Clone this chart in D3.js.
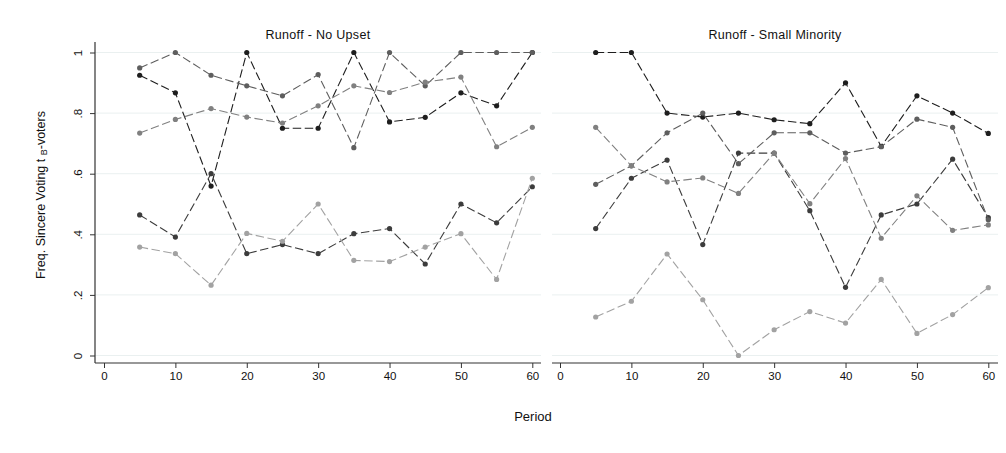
<!DOCTYPE html>
<html>
<head>
<meta charset="utf-8">
<script src="https://cdn.jsdelivr.net/npm/d3@7"></script>
<style>
  html, body { margin: 0; padding: 0; background: #fff; }
  svg { display: block; font-family: "Liberation Sans", Arial, sans-serif; }
</style>
</head>
<body>
<svg id="chart" width="1006" height="453"></svg>
<script>
// Periods at which sincere-voting frequency was measured
const periods = [5, 10, 15, 20, 25, 30, 35, 40, 45, 50, 55, 60];

// Panel titles
const panelTitles = ["Runoff - No Upset", "Runoff - Small Minority"];

// Axis ticks
const xTicks = [0, 10, 20, 30, 40, 50, 60];
const yTicks = [0, 0.2, 0.4, 0.6, 0.8, 1];
const yTickLabels = ["0", ".2", ".4", ".6", ".8", "1"];

// Series colours (one grey shade per session)
const seriesColors = ["#1e1e1e", "#3c3c3c", "#5e5e5e", "#808080", "#a2a2a2"];

// Runoff - No Upset: one array per session
const noUpset1 = [0.925, 0.867, 0.559, 1.0, 0.75, 0.75, 1.0, 0.771, 0.786, 0.867, 0.824, 1.0];
const noUpset2 = [0.464, 0.391, 0.6, 0.336, 0.366, 0.336, 0.402, 0.419, 0.302, 0.5, 0.438, 0.557];
const noUpset3 = [0.949, 1.0, 0.925, 0.89, 0.857, 0.927, 0.686, 1.0, 0.89, 1.0, 1.0, 1.0];
const noUpset4 = [0.734, 0.779, 0.815, 0.787, 0.767, 0.824, 0.89, 0.868, 0.902, 0.919, 0.689, 0.753];
const noUpset5 = [0.358, 0.336, 0.232, 0.403, 0.377, 0.5, 0.314, 0.31, 0.358, 0.402, 0.251, 0.585];

// Runoff - Small Minority: one array per session
const minority1 = [1.0, 1.0, 0.8, 0.787, 0.8, 0.778, 0.765, 0.9, 0.69, 0.857, 0.8, 0.733];
const minority2 = [0.419, 0.585, 0.645, 0.366, 0.668, 0.668, 0.478, 0.225, 0.464, 0.5, 0.648, 0.455];
const minority3 = [0.565, 0.626, 0.735, 0.8, 0.633, 0.735, 0.735, 0.668, 0.689, 0.78, 0.753, 0.448];
const minority4 = [0.753, 0.626, 0.573, 0.586, 0.535, 0.668, 0.501, 0.65, 0.387, 0.527, 0.413, 0.431];
const minority5 = [0.127, 0.179, 0.335, 0.184, 0.0, 0.085, 0.145, 0.107, 0.251, 0.073, 0.135, 0.224];

const panels = [
  { title: panelTitles[0], series: [noUpset1, noUpset2, noUpset3, noUpset4, noUpset5], left: 95, x0: 104, yAxis: true },
  { title: panelTitles[1], series: [minority1, minority2, minority3, minority4, minority5], left: 552, x0: 560, yAxis: false }
];

const svg = d3.select("#chart");

const plotTop = 42, plotBottom = 363, plotWidth = 446;
const y = d3.scaleLinear().domain([0, 1]).range([355.5, 52.5]);

panels.forEach(p => {
  const x = d3.scaleLinear().domain([0, 60]).range([p.x0, p.x0 + 428.3]);
  const g = svg.append("g");

  // Horizontal gridlines
  g.selectAll("line.grid").data(yTicks).join("line")
    .attr("class", "grid")
    .attr("x1", p.left).attr("x2", p.left + plotWidth)
    .attr("y1", d => y(d)).attr("y2", d => y(d))
    .attr("stroke", "#eaf0f0").attr("stroke-width", 1);

  // Title
  g.append("text")
    .attr("x", p.left + plotWidth / 2).attr("y", 39)
    .attr("text-anchor", "middle")
    .attr("font-size", 12.5).attr("letter-spacing", 0.3).attr("fill", "#111")
    .text(p.title);

  // X axis
  const xAxis = d3.axisBottom(x).tickValues(xTicks).tickSize(5).tickPadding(4).tickSizeOuter(0);
  const xa = g.append("g").attr("transform", `translate(0,${plotBottom})`).call(xAxis);
  xa.select(".domain").remove();
  xa.append("line").attr("x1", p.left).attr("x2", p.left + plotWidth)
    .attr("stroke", "#333").attr("stroke-width", 1.2);
  xa.selectAll(".tick line").attr("stroke", "#333");
  xa.selectAll(".tick text").attr("font-size", 11.5).attr("fill", "#111")
    .attr("font-family", "'Liberation Sans', Arial, sans-serif");

  // Y axis (left panel only)
  if (p.yAxis) {
    const yAxis = d3.axisLeft(y).tickValues(yTicks)
      .tickFormat((d, i) => yTickLabels[i]).tickSize(5).tickSizeOuter(0);
    const ya = g.append("g").attr("transform", `translate(${p.left},0)`).call(yAxis);
    ya.select(".domain").remove();
    ya.append("line").attr("y1", plotTop).attr("y2", plotBottom)
      .attr("stroke", "#333").attr("stroke-width", 1.2);
    ya.selectAll(".tick line").attr("stroke", "#333");
    ya.selectAll(".tick text")
      .attr("font-size", 11.5).attr("fill", "#111")
      .attr("font-family", "'Liberation Sans', Arial, sans-serif")
      .attr("text-anchor", "middle")
      .attr("x", 0).attr("dy", 0)
      .attr("transform", "translate(-13,0) rotate(-90)");
  }

  // Series lines and markers
  const line = d3.line().x((d, i) => x(periods[i])).y(d => y(d));
  p.series.forEach((vals, si) => {
    const color = seriesColors[si];
    g.append("path").datum(vals)
      .attr("d", line)
      .attr("fill", "none")
      .attr("stroke", color)
      .attr("stroke-width", 1.1)
      .attr("stroke-dasharray", "8.5,3.5");
    g.selectAll(null).data(vals).join("circle")
      .attr("cx", (d, i) => x(periods[i]))
      .attr("cy", d => y(d))
      .attr("r", 2.6)
      .attr("fill", color);
  });
});

// Y axis title with subscript
const yTitle = svg.append("text")
  .attr("transform", "translate(45,195) rotate(-90)")
  .attr("text-anchor", "middle")
  .attr("font-size", 12.5).attr("fill", "#111");
yTitle.append("tspan").text("Freq. Sincere Voting t ");
yTitle.append("tspan").attr("font-size", 9).attr("dy", 2).text("B");
yTitle.append("tspan").attr("dy", -2).text("-voters");

// X axis title
svg.append("text")
  .attr("x", 533).attr("y", 421)
  .attr("text-anchor", "middle")
  .attr("font-size", 13).attr("fill", "#111")
  .text("Period");
</script>
</body>
</html>
